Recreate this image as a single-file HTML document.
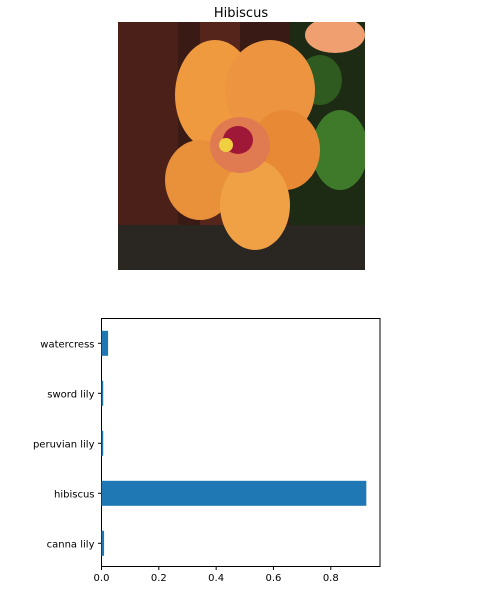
<!DOCTYPE html>
<html><head><meta charset="utf-8"><style>
body{margin:0;background:#fff;width:482px;height:591px;overflow:hidden;font-family:"Liberation Sans","DejaVu Sans",sans-serif;}
</style></head><body>
<svg width="482" height="591" viewBox="0 0 482 591">
<text x="241" y="17" text-anchor="middle" font-size="13" font-family="DejaVu Sans, Liberation Sans, sans-serif">Hibiscus</text>
<g>
 <clipPath id="c"><rect x="118" y="22" width="247" height="248"/></clipPath>
 <g clip-path="url(#c)">
  <rect x="118" y="22" width="247" height="248" fill="#3a1a14"/>
  <rect x="118" y="22" width="60" height="248" fill="#4a2018"/>
  <rect x="200" y="22" width="40" height="248" fill="#55251c"/>
  <rect x="290" y="22" width="75" height="248" fill="#1d2a14"/>
  <ellipse cx="340" cy="150" rx="28" ry="40" fill="#3f7a2a"/>
  <ellipse cx="320" cy="80" rx="22" ry="25" fill="#2f5a20"/>
  <ellipse cx="335" cy="35" rx="30" ry="18" fill="#f0a070"/>
  <rect x="118" y="225" width="247" height="45" fill="#2a2622"/>
  <ellipse cx="215" cy="95" rx="40" ry="55" fill="#f09a40"/>
  <ellipse cx="270" cy="90" rx="45" ry="50" fill="#ec9440"/>
  <ellipse cx="285" cy="150" rx="35" ry="40" fill="#e88a35"/>
  <ellipse cx="200" cy="180" rx="35" ry="40" fill="#e8903a"/>
  <ellipse cx="255" cy="205" rx="35" ry="45" fill="#f0a045"/>
  <ellipse cx="240" cy="145" rx="30" ry="28" fill="#e07a50"/>
  <ellipse cx="238" cy="140" rx="15" ry="14" fill="#a01838"/>
  <circle cx="226" cy="145" r="7" fill="#f0d040"/>
 </g>
</g>
<rect x="101.5" y="318.5" width="278.5" height="248" fill="none" stroke="#000" stroke-width="1"/>
<g id="bars"></g><g id="xt"></g><g id="yt"></g>
</svg>
<script>
const categories=["canna lily","hibiscus","peruvian lily","sword lily","watercress"];
const values=[0.009,0.924,0.006,0.006,0.023];
const xTicks=[0,0.2,0.4,0.6,0.8];
const xTickLabels=["0.0","0.2","0.4","0.6","0.8"];
const NS="http://www.w3.org/2000/svg";
const x0=101.5,pxPerUnit=286.6,yBottom=543.3,step=50;
const xs=v=>x0+v*pxPerUnit;
const ys=i=>yBottom-i*step;
function mk(t,a,p){const e=document.createElementNS(NS,t);for(const k in a)e.setAttribute(k,a[k]);p.appendChild(e);return e;}
const bars=document.getElementById('bars'),xt=document.getElementById('xt'),yt=document.getElementById('yt');
categories.forEach((c,i)=>{
 const r=mk('rect',{x:xs(0),y:ys(i)-12.5,width:xs(values[i])-xs(0),height:25,fill:'#1f77b4'},bars);
 
 
 const l=mk('line',{x1:x0-3.5,x2:x0,y1:ys(i),y2:ys(i),stroke:'#000'},yt);
 
 
 const t=mk('text',{x:x0-7,y:ys(i)+4,'text-anchor':'end','font-size':'10','font-family':'DejaVu Sans, Liberation Sans, sans-serif'},yt);
 t.textContent=c;
 
 
});
xTicks.forEach((v,i)=>{
 const l=mk('line',{x1:xs(v),x2:xs(v),y1:566.5,y2:570,stroke:'#000'},xt);
 
 
 const t=mk('text',{x:xs(v),y:581,'text-anchor':'middle','font-size':'10','font-family':'DejaVu Sans, Liberation Sans, sans-serif'},xt);
 t.textContent=xTickLabels[i];
 
 
});
</script>
</body></html>
